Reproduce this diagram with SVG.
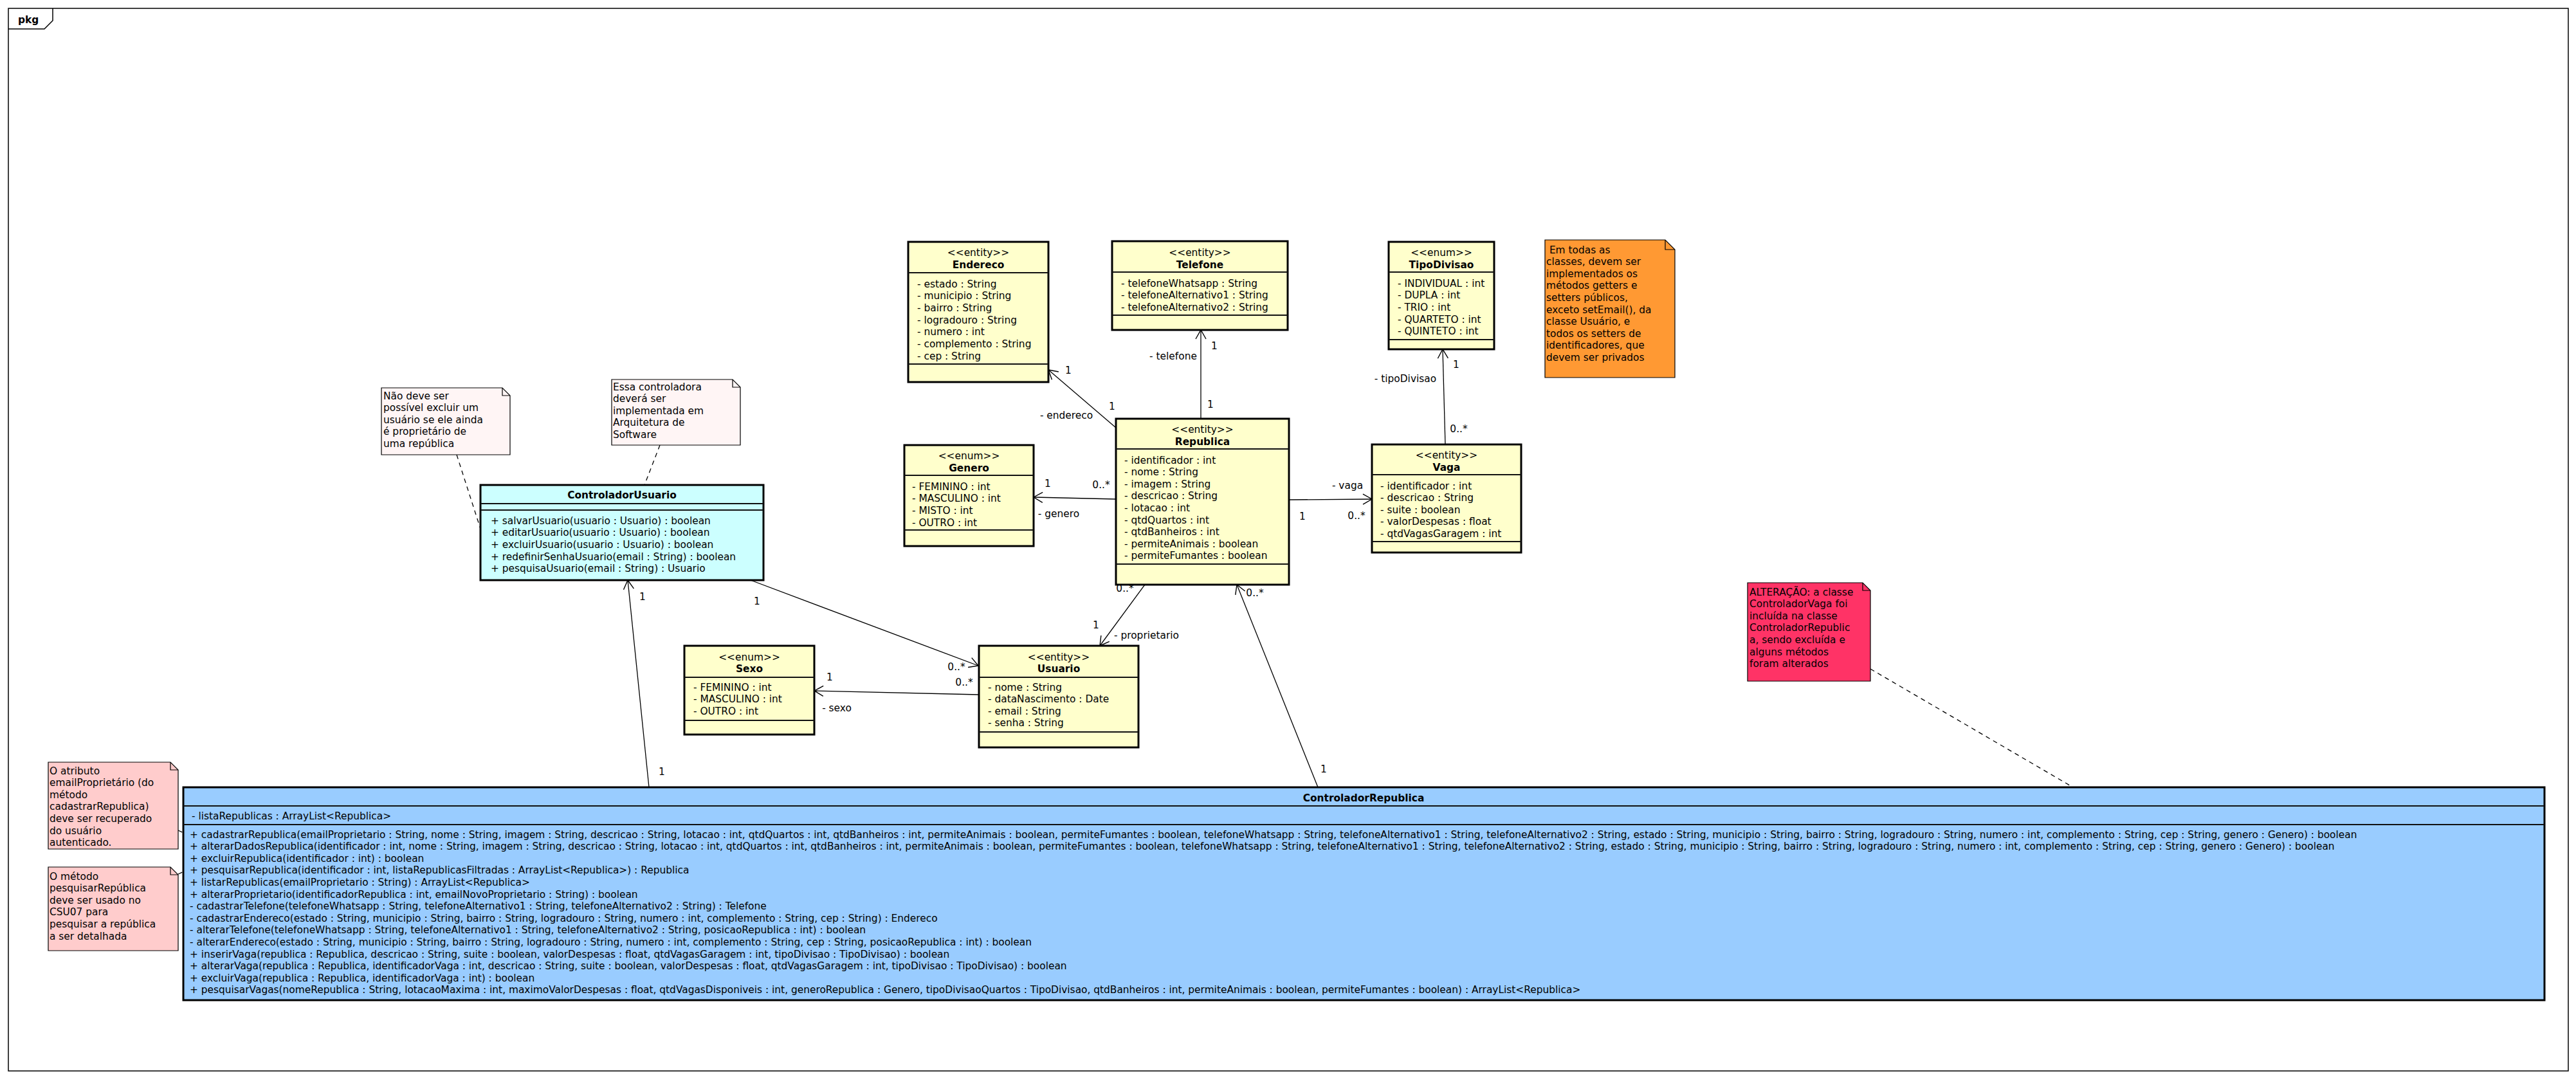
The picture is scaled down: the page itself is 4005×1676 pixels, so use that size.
<svg xmlns="http://www.w3.org/2000/svg" width="4005" height="1676" viewBox="0 0 4005 1676">
<style>
text{font-family:"DejaVu Sans","Liberation Sans",sans-serif;font-size:15.4px;fill:#000}
.b{font-weight:bold}
.m{text-anchor:middle}
.ent{fill:#ffffcc;stroke:#000;stroke-width:3}
.cu{fill:#ccffff;stroke:#000;stroke-width:3}
.cr{fill:#99ccff;stroke:#000;stroke-width:3}
.dv{stroke:#111;stroke-width:1.8}
.note{stroke:#000;stroke-width:1.2}
.fold{fill:none;stroke:#000;stroke-width:1.2}
.c{stroke:#000;stroke-width:1.3;fill:none}
.d{stroke:#000;stroke-width:1.3;fill:none;stroke-dasharray:7 6}
</style>
<defs>
<marker id="arr" markerUnits="userSpaceOnUse" markerWidth="20" markerHeight="20" viewBox="-16 -10 20 20" refX="0" refY="0" orient="auto">
<path d="M-14,-8 L0,0 L-14,8" fill="none" stroke="#000" stroke-width="1.4"/>
</marker>
</defs>
<rect x="0" y="0" width="4005" height="1676" fill="#fff"/>
<g id="frame">
<rect x="13" y="13" width="3980" height="1652" fill="none" stroke="#000" stroke-width="1.5"/>
<path d="M13,45 L69,45 L82,32 L82,13" fill="none" stroke="#000" stroke-width="1.5"/>
<text x="28" y="36" class="b">pkg</text>
</g>
<g id="connectors">
<line class="c" x1="1735" y1="665" x2="1630" y2="575" marker-end="url(#arr)"/>
<line class="c" x1="1867" y1="651" x2="1867" y2="513" marker-end="url(#arr)"/>
<line class="c" x1="1735" y1="776" x2="1607" y2="773" marker-end="url(#arr)"/>
<line class="c" x1="2004" y1="777" x2="2133" y2="776" marker-end="url(#arr)"/>
<line class="c" x1="2247" y1="691" x2="2243" y2="543" marker-end="url(#arr)"/>
<line class="c" x1="1780" y1="909" x2="1710" y2="1004" marker-end="url(#arr)"/>
<line class="c" x1="1167" y1="902" x2="1521" y2="1035" marker-end="url(#arr)"/>
<line class="c" x1="1522" y1="1080" x2="1266" y2="1074" marker-end="url(#arr)"/>
<line class="c" x1="1009" y1="1224" x2="976" y2="902" marker-end="url(#arr)"/>
<line class="c" x1="2049" y1="1224" x2="1923" y2="909" marker-end="url(#arr)"/>
<line class="d" x1="710" y1="707" x2="755" y2="847"/>
<circle cx="755" cy="847" r="3.2" fill="#000"/>
<line class="d" x1="1026" y1="692" x2="1002" y2="754"/>
<line class="d" x1="2908" y1="1040" x2="3223" y2="1224"/>
<line class="d" x1="277" y1="1291" x2="290" y2="1297"/>
<circle cx="290" cy="1297" r="3.2" fill="#000"/>
<line class="d" x1="277" y1="1359" x2="290" y2="1353"/>
<circle cx="290" cy="1353" r="3.2" fill="#000"/>
<text x="1661" y="580.5" class="m">1</text>
<text x="1729" y="636.5" class="m">1</text>
<text x="1658" y="650.5" class="m">- endereco</text>
<text x="1888" y="542.5" class="m">1</text>
<text x="1824" y="558.5" class="m">- telefone</text>
<text x="1882" y="633.5" class="m">1</text>
<text x="1629" y="756.5" class="m">1</text>
<text x="1712" y="758.5" class="m">0..*</text>
<text x="1646" y="803.5" class="m">- genero</text>
<text x="2095" y="759.5" class="m">- vaga</text>
<text x="2025" y="807.5" class="m">1</text>
<text x="2109" y="806.5" class="m">0..*</text>
<text x="2264" y="571.5" class="m">1</text>
<text x="2185" y="593.5" class="m">- tipoDivisao</text>
<text x="2268" y="671.5" class="m">0..*</text>
<text x="1749" y="919.5" class="m">0..*</text>
<text x="1704" y="976.5" class="m">1</text>
<text x="1732" y="992.5">- proprietario</text>
<text x="1177" y="939.5" class="m">1</text>
<text x="1487" y="1041.5" class="m">0..*</text>
<text x="1290" y="1057.5" class="m">1</text>
<text x="1301" y="1105.5" class="m">- sexo</text>
<text x="1499" y="1065.5" class="m">0..*</text>
<text x="999" y="932.5" class="m">1</text>
<text x="1029" y="1204.5" class="m">1</text>
<text x="1951" y="926.5" class="m">0..*</text>
<text x="2058" y="1200.5" class="m">1</text>
</g>
<g id="Endereco">
<rect class="ent" x="1412" y="376" width="218" height="218"/>
<line class="dv" x1="1412" y1="424" x2="1630" y2="424"/>
<line class="dv" x1="1412" y1="566" x2="1630" y2="566"/>
<text x="1521" y="397.5" class="m">&lt;&lt;entity&gt;&gt;</text>
<text x="1521" y="416.5" class="m b">Endereco</text>
<text x="1426" y="446.5">- estado : String</text>
<text x="1426" y="465.2">- municipio : String</text>
<text x="1426" y="483.8">- bairro : String</text>
<text x="1426" y="502.5">- logradouro : String</text>
<text x="1426" y="521.2">- numero : int</text>
<text x="1426" y="539.8">- complemento : String</text>
<text x="1426" y="558.5">- cep : String</text>
</g>
<g id="Telefone">
<rect class="ent" x="1729" y="375" width="273" height="138"/>
<line class="dv" x1="1729" y1="423" x2="2002" y2="423"/>
<line class="dv" x1="1729" y1="490" x2="2002" y2="490"/>
<text x="1865.5" y="397.5" class="m">&lt;&lt;entity&gt;&gt;</text>
<text x="1865.5" y="416.5" class="m b">Telefone</text>
<text x="1743" y="445.5">- telefoneWhatsapp : String</text>
<text x="1743" y="464.2">- telefoneAlternativo1 : String</text>
<text x="1743" y="482.8">- telefoneAlternativo2 : String</text>
</g>
<g id="TipoDivisao">
<rect class="ent" x="2159" y="376" width="164" height="167"/>
<line class="dv" x1="2159" y1="423" x2="2323" y2="423"/>
<line class="dv" x1="2159" y1="528" x2="2323" y2="528"/>
<text x="2241" y="397.5" class="m">&lt;&lt;enum&gt;&gt;</text>
<text x="2241" y="416.5" class="m b">TipoDivisao</text>
<text x="2173" y="445.5">- INDIVIDUAL : int</text>
<text x="2173" y="464.2">- DUPLA : int</text>
<text x="2173" y="482.8">- TRIO : int</text>
<text x="2173" y="501.5">- QUARTETO : int</text>
<text x="2173" y="520.2">- QUINTETO : int</text>
</g>
<g id="NotaGettersSetters">
<path class="note" fill="#ff9933" d="M2402,373 L2589,373 L2604,388 L2604,587 L2402,587 Z"/>
<path class="fold" d="M2589,373 L2589,388 L2604,388"/>
<text x="2404" y="393.5" xml:space="preserve"> Em todas as</text>
<text x="2404" y="412.1">classes, devem ser</text>
<text x="2404" y="430.7">implementados os</text>
<text x="2404" y="449.3">métodos getters e</text>
<text x="2404" y="467.9">setters públicos,</text>
<text x="2404" y="486.5">exceto setEmail(), da</text>
<text x="2404" y="505.1">classe Usuário, e</text>
<text x="2404" y="523.7">todos os setters de</text>
<text x="2404" y="542.3">identificadores, que</text>
<text x="2404" y="560.9">devem ser privados</text>
</g>
<g id="Genero">
<rect class="ent" x="1406" y="692" width="201" height="157"/>
<line class="dv" x1="1406" y1="739" x2="1607" y2="739"/>
<line class="dv" x1="1406" y1="824" x2="1607" y2="824"/>
<text x="1506.5" y="713.5" class="m">&lt;&lt;enum&gt;&gt;</text>
<text x="1506.5" y="732.5" class="m b">Genero</text>
<text x="1418" y="761.5">- FEMININO : int</text>
<text x="1418" y="780.2">- MASCULINO : int</text>
<text x="1418" y="798.8">- MISTO : int</text>
<text x="1418" y="817.5">- OUTRO : int</text>
</g>
<g id="Republica">
<rect class="ent" x="1735" y="651" width="269" height="258"/>
<line class="dv" x1="1735" y1="698" x2="2004" y2="698"/>
<line class="dv" x1="1735" y1="877" x2="2004" y2="877"/>
<text x="1869.5" y="672.5" class="m">&lt;&lt;entity&gt;&gt;</text>
<text x="1869.5" y="691.5" class="m b">Republica</text>
<text x="1748" y="720.5">- identificador : int</text>
<text x="1748" y="739.1">- nome : String</text>
<text x="1748" y="757.7">- imagem : String</text>
<text x="1748" y="776.3">- descricao : String</text>
<text x="1748" y="794.9">- lotacao : int</text>
<text x="1748" y="813.5">- qtdQuartos : int</text>
<text x="1748" y="832.1">- qtdBanheiros : int</text>
<text x="1748" y="850.7">- permiteAnimais : boolean</text>
<text x="1748" y="869.3">- permiteFumantes : boolean</text>
</g>
<g id="Vaga">
<rect class="ent" x="2133" y="691" width="232" height="168"/>
<line class="dv" x1="2133" y1="738" x2="2365" y2="738"/>
<line class="dv" x1="2133" y1="842" x2="2365" y2="842"/>
<text x="2249" y="712.5" class="m">&lt;&lt;entity&gt;&gt;</text>
<text x="2249" y="731.5" class="m b">Vaga</text>
<text x="2146" y="760.5">- identificador : int</text>
<text x="2146" y="779.1">- descricao : String</text>
<text x="2146" y="797.7">- suite : boolean</text>
<text x="2146" y="816.3">- valorDespesas : float</text>
<text x="2146" y="834.9">- qtdVagasGaragem : int</text>
</g>
<g id="Sexo">
<rect class="ent" x="1064" y="1004" width="202" height="138"/>
<line class="dv" x1="1064" y1="1053" x2="1266" y2="1053"/>
<line class="dv" x1="1064" y1="1120" x2="1266" y2="1120"/>
<text x="1165" y="1026.5" class="m">&lt;&lt;enum&gt;&gt;</text>
<text x="1165" y="1044.5" class="m b">Sexo</text>
<text x="1078" y="1073.5">- FEMININO : int</text>
<text x="1078" y="1092.1">- MASCULINO : int</text>
<text x="1078" y="1110.7">- OUTRO : int</text>
</g>
<g id="Usuario">
<rect class="ent" x="1522" y="1004" width="248" height="158"/>
<line class="dv" x1="1522" y1="1053" x2="1770" y2="1053"/>
<line class="dv" x1="1522" y1="1138" x2="1770" y2="1138"/>
<text x="1646" y="1026.5" class="m">&lt;&lt;entity&gt;&gt;</text>
<text x="1646" y="1044.5" class="m b">Usuario</text>
<text x="1536" y="1073.5">- nome : String</text>
<text x="1536" y="1092.1">- dataNascimento : Date</text>
<text x="1536" y="1110.7">- email : String</text>
<text x="1536" y="1129.3">- senha : String</text>
</g>
<g id="NotaExcluirUsuario">
<path class="note" fill="#fff5f5" d="M593,603 L781,603 L793,615 L793,707 L593,707 Z"/>
<path class="fold" d="M781,603 L781,615 L793,615"/>
<text x="596" y="620.5">Não deve ser</text>
<text x="596" y="639.1">possível excluir um</text>
<text x="596" y="657.7">usuário se ele ainda</text>
<text x="596" y="676.3">é proprietário de</text>
<text x="596" y="694.9">uma república</text>
</g>
<g id="NotaArquitetura">
<path class="note" fill="#fff5f5" d="M951,590 L1139,590 L1151,602 L1151,692 L951,692 Z"/>
<path class="fold" d="M1139,590 L1139,602 L1151,602"/>
<text x="953" y="606.5">Essa controladora</text>
<text x="953" y="625.1">deverá ser</text>
<text x="953" y="643.7">implementada em</text>
<text x="953" y="662.3">Arquitetura de</text>
<text x="953" y="680.9">Software</text>
</g>
<g id="ControladorUsuario">
<rect class="cu" x="747" y="754" width="440" height="148"/>
<line class="dv" x1="747" y1="783" x2="1187" y2="783"/>
<line class="dv" x1="747" y1="793" x2="1187" y2="793"/>
<text x="967" y="774.5" class="m b">ControladorUsuario</text>
<text x="763" y="814.5">+ salvarUsuario(usuario : Usuario) : boolean</text>
<text x="763" y="833.2">+ editarUsuario(usuario : Usuario) : boolean</text>
<text x="763" y="851.9">+ excluirUsuario(usuario : Usuario) : boolean</text>
<text x="763" y="870.6">+ redefinirSenhaUsuario(email : String) : boolean</text>
<text x="763" y="889.3">+ pesquisaUsuario(email : String) : Usuario</text>
</g>
<g id="NotaAlteracao">
<path class="note" fill="#ff3366" d="M2717,906 L2896,906 L2908,918 L2908,1059 L2717,1059 Z"/>
<path class="fold" d="M2896,906 L2896,918 L2908,918"/>
<text x="2720" y="925.5">ALTERAÇÃO: a classe</text>
<text x="2720" y="944.1">ControladorVaga foi</text>
<text x="2720" y="962.7">incluída na classe</text>
<text x="2720" y="981.3">ControladorRepublic</text>
<text x="2720" y="999.9">a, sendo excluída e</text>
<text x="2720" y="1018.5">alguns métodos</text>
<text x="2720" y="1037.1">foram alterados</text>
</g>
<g id="NotaEmailProprietario">
<path class="note" fill="#ffcccc" d="M75,1185 L265,1185 L277,1197 L277,1320 L75,1320 Z"/>
<path class="fold" d="M265,1185 L265,1197 L277,1197"/>
<text x="77" y="1203.5">O atributo</text>
<text x="77" y="1222.1">emailProprietário (do</text>
<text x="77" y="1240.7">método</text>
<text x="77" y="1259.3">cadastrarRepublica)</text>
<text x="77" y="1277.9">deve ser recuperado</text>
<text x="77" y="1296.5">do usuário</text>
<text x="77" y="1315.1">autenticado.</text>
</g>
<g id="NotaPesquisar">
<path class="note" fill="#ffcccc" d="M75,1348 L265,1348 L277,1360 L277,1478 L75,1478 Z"/>
<path class="fold" d="M265,1348 L265,1360 L277,1360"/>
<text x="77" y="1367.5">O método</text>
<text x="77" y="1386.1">pesquisarRepública</text>
<text x="77" y="1404.7">deve ser usado no</text>
<text x="77" y="1423.3">CSU07 para</text>
<text x="77" y="1441.9">pesquisar a república</text>
<text x="77" y="1460.5">a ser detalhada</text>
</g>
<g id="ControladorRepublica">
<rect class="cr" x="285" y="1224" width="3671" height="331"/>
<line class="dv" x1="285" y1="1253" x2="3956" y2="1253"/>
<line class="dv" x1="285" y1="1282" x2="3956" y2="1282"/>
<text x="2120" y="1245.5" class="m b">ControladorRepublica</text>
<text x="298" y="1273.5">- listaRepublicas : ArrayList&lt;Republica&gt;</text>
<text x="295" y="1302.5">+ cadastrarRepublica(emailProprietario : String, nome : String, imagem : String, descricao : String, lotacao : int, qtdQuartos : int, qtdBanheiros : int, permiteAnimais : boolean, permiteFumantes : boolean, telefoneWhatsapp : String, telefoneAlternativo1 : String, telefoneAlternativo2 : String, estado : String, municipio : String, bairro : String, logradouro : String, numero : int, complemento : String, cep : String, genero : Genero) : boolean</text>
<text x="295" y="1321.1">+ alterarDadosRepublica(identificador : int, nome : String, imagem : String, descricao : String, lotacao : int, qtdQuartos : int, qtdBanheiros : int, permiteAnimais : boolean, permiteFumantes : boolean, telefoneWhatsapp : String, telefoneAlternativo1 : String, telefoneAlternativo2 : String, estado : String, municipio : String, bairro : String, logradouro : String, numero : int, complemento : String, cep : String, genero : Genero) : boolean</text>
<text x="295" y="1339.7">+ excluirRepublica(identificador : int) : boolean</text>
<text x="295" y="1358.3">+ pesquisarRepublica(identificador : int, listaRepublicasFiltradas : ArrayList&lt;Republica&gt;) : Republica</text>
<text x="295" y="1376.9">+ listarRepublicas(emailProprietario : String) : ArrayList&lt;Republica&gt;</text>
<text x="295" y="1395.5">+ alterarProprietario(identificadorRepublica : int, emailNovoProprietario : String) : boolean</text>
<text x="295" y="1414.1">- cadastrarTelefone(telefoneWhatsapp : String, telefoneAlternativo1 : String, telefoneAlternativo2 : String) : Telefone</text>
<text x="295" y="1432.7">- cadastrarEndereco(estado : String, municipio : String, bairro : String, logradouro : String, numero : int, complemento : String, cep : String) : Endereco</text>
<text x="295" y="1451.3">- alterarTelefone(telefoneWhatsapp : String, telefoneAlternativo1 : String, telefoneAlternativo2 : String, posicaoRepublica : int) : boolean</text>
<text x="295" y="1469.9">- alterarEndereco(estado : String, municipio : String, bairro : String, logradouro : String, numero : int, complemento : String, cep : String, posicaoRepublica : int) : boolean</text>
<text x="295" y="1488.5">+ inserirVaga(republica : Republica, descricao : String, suite : boolean, valorDespesas : float, qtdVagasGaragem : int, tipoDivisao : TipoDivisao) : boolean</text>
<text x="295" y="1507.1">+ alterarVaga(republica : Republica, identificadorVaga : int, descricao : String, suite : boolean, valorDespesas : float, qtdVagasGaragem : int, tipoDivisao : TipoDivisao) : boolean</text>
<text x="295" y="1525.7">+ excluirVaga(republica : Republica, identificadorVaga : int) : boolean</text>
<text x="295" y="1544.3">+ pesquisarVagas(nomeRepublica : String, lotacaoMaxima : int, maximoValorDespesas : float, qtdVagasDisponiveis : int, generoRepublica : Genero, tipoDivisaoQuartos : TipoDivisao, qtdBanheiros : int, permiteAnimais : boolean, permiteFumantes : boolean) : ArrayList&lt;Republica&gt;</text>
</g>
</svg>
